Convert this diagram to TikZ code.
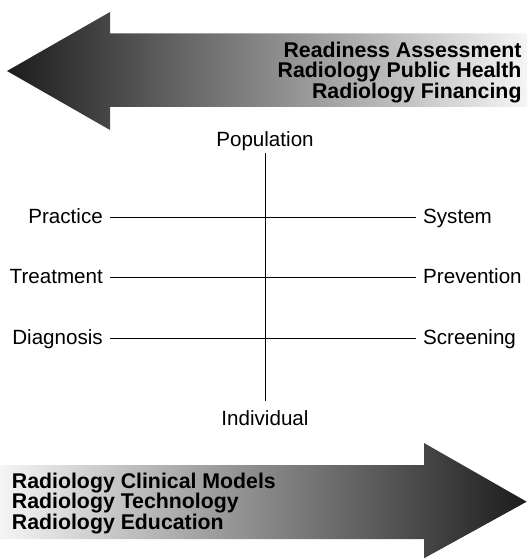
\documentclass[tikz,border=0pt]{standalone}
\usepackage{fontspec}
\setmainfont{Liberation Sans}
\begin{document}
\begin{tikzpicture}[x=1pt,y=-1pt,
  lab/.style={font=\fontsize{20.6}{24}\selectfont, inner xsep=7pt, inner ysep=0pt},
  axlab/.style={font=\fontsize{20.6}{24}\selectfont, inner sep=0pt},
  bigtext/.style={font=\bfseries\fontsize{21.3}{20.6}\selectfont, inner sep=0pt},
  axisline/.style={line width=0.9pt, black},
  bigarrow/.style={draw=none}]
\useasboundingbox (0,0) rectangle (527,559);

% top arrow (pointing left)
\path[bigarrow, left color=black!89, right color=white!96!black]
  (7,71) -- (110,12) -- (110,33.5) -- (527,33.5) -- (527,107) -- (110,107) -- (110,130) -- cycle;
% bottom arrow (pointing right)
\path[bigarrow, left color=white!96!black, right color=black!89]
  (0,465) -- (424,465) -- (424,443) -- (526.7,501.7) -- (424,558.3) -- (424,539) -- (0,539) -- cycle;

\node[bigtext, anchor=north east, align=right] (toptext) at (521.7,41.7)
  {Readiness Assessment\\Radiology Public Health\\Radiology Financing};
\node[bigtext, anchor=north west, align=left] (bottext) at (11.7,472.7)
  {Radiology Clinical Models\\Radiology Technology\\Radiology Education};

% axis labels
\node[axlab, anchor=base] (pop) at (265,146.7) {Population};
\node[axlab, anchor=base] (ind) at (265,425) {Individual};

\node[lab, anchor=base east] (practice) at (110,223.3) {Practice};
\node[lab, anchor=base east] (treatment) at (110,283.3) {Treatment};
\node[lab, anchor=base east] (diagnosis) at (110,344.3) {Diagnosis};
\node[lab, anchor=base west] (system) at (416,223.3) {System};
\node[lab, anchor=base west] (prevention) at (416,283.3) {Prevention};
\node[lab, anchor=base west] (screening) at (416,344.3) {Screening};

\draw[axisline, shorten <=2pt, shorten >=9pt] (pop.south) -- (ind.north);
\draw[axisline] ([yshift=6.3pt]practice.base east) -- ([yshift=6.3pt]system.base west);
\draw[axisline] ([yshift=6.3pt]treatment.base east) -- ([yshift=6.3pt]prevention.base west);
\draw[axisline] ([yshift=6.3pt]diagnosis.base east) -- ([yshift=6.3pt]screening.base west);
\end{tikzpicture}
\end{document}
